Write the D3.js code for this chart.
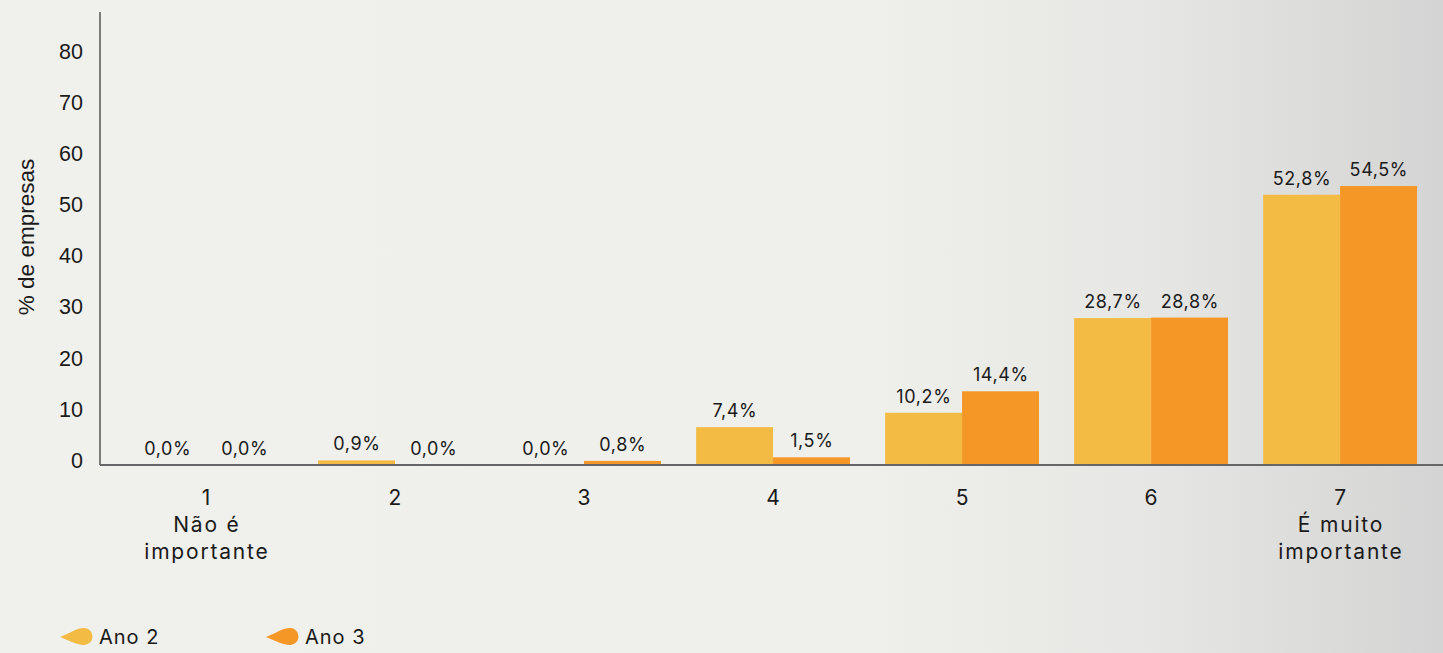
<!DOCTYPE html>
<html><head><meta charset="utf-8">
<script src="https://cdn.jsdelivr.net/npm/d3@7"></script>
<style>
html,body{margin:0;padding:0;}
body{width:1443px;height:653px;overflow:hidden;}
text{font-family:"Inter","Noto Sans",sans-serif;fill:#1a1a1a;}
text.ax{font-family:"Liberation Sans","Arial",sans-serif;}
</style></head>
<body>
<svg id="c" width="1443" height="653"></svg>
<script>
const categories = ["1","2","3","4","5","6","7"];
const categorySub = [["Não é","importante"],[],[],[],[],[],["É muito","importante"]];
const seriesNames = ["Ano 2","Ano 3"];
const ano2 = [0.0, 0.9, 0.0, 7.4, 10.2, 28.7, 52.8];
const ano3 = [0.0, 0.0, 0.8, 1.5, 14.4, 28.8, 54.5];
const yTicks = [0,10,20,30,40,50,60,70,80];
const colors = ["#F3BB43","#F49727"];

const svg = d3.select("#c");
const W = 1443, H = 653;
const defs = svg.append("defs");
const grad = defs.append("linearGradient").attr("id","bg").attr("x1","0").attr("x2","1").attr("y1","0").attr("y2","0");
grad.append("stop").attr("offset","0").attr("stop-color","#f0f0ec");
grad.append("stop").attr("offset","0.6").attr("stop-color","#efefeb");
grad.append("stop").attr("offset","0.8").attr("stop-color","#e6e6e4");
grad.append("stop").attr("offset","1").attr("stop-color","#d4d4d4");
svg.append("rect").attr("width",W).attr("height",H).attr("fill","url(#bg)");

const x0 = d3.scaleBand().domain(categories).range([111.5,1434.6]).paddingInner(0.186).paddingOuter(0.093);
const x1 = d3.scaleBand().domain(seriesNames).range([0,x0.bandwidth()]);
const y = d3.scaleLinear().domain([0,88.5]).range([465,12]);

const data = categories.map((c,i)=>({cat:c, vals:[ano2[i],ano3[i]]}));

// bars
const g = svg.append("g");
const groups = g.selectAll("g.grp").data(data).join("g").attr("class","grp")
  .attr("transform",d=>`translate(${x0(d.cat)},0)`);
groups.selectAll("rect").data(d=>d.vals.map((v,j)=>({v,s:seriesNames[j],j}))).join("rect")
  .attr("x",d=>x1(d.s)).attr("width",x1.bandwidth())
  .attr("y",d=>y(d.v)).attr("height",d=>y(0)-y(d.v))
  .attr("fill",d=>colors[d.j]);
groups.selectAll("text").data(d=>d.vals.map((v,j)=>({v,s:seriesNames[j],j}))).join("text")
  .attr("x",d=>x1(d.s)+x1.bandwidth()/2+0.3).attr("y",d=>y(d.v)-10)
  .attr("text-anchor","middle").attr("font-size",18).attr("letter-spacing",0.6)
  .text(d=>d.v.toFixed(1).replace(".",",")+"%");

// axes
svg.append("line").attr("x1",100).attr("x2",100).attr("y1",12).attr("y2",465).attr("stroke","#555").attr("stroke-width",1.5);
svg.append("line").attr("x1",100).attr("x2",W).attr("y1",465).attr("y2",465).attr("stroke","#666").attr("stroke-width",2);

svg.append("g").selectAll("text").data(yTicks).join("text").attr("class","ax")
  .attr("x",83).attr("y",d=>y(d)+3).attr("text-anchor","end").attr("font-size",21.5)
  .text(d=>d);

svg.append("text").attr("class","ax").attr("transform","translate(34,237) rotate(-90)").attr("text-anchor","middle")
  .attr("font-size",22.5).text("% de empresas");

// category labels
const cl = svg.append("g");
categories.forEach((c,i)=>{
  const cx = x0(c)+x0.bandwidth()/2;
  const lines = [c].concat(categorySub[i]);
  lines.forEach((t,k)=>{
    cl.append("text").attr("x",cx+0.9).attr("y",505+k*27).attr("text-anchor","middle")
      .attr("font-size",21).attr("letter-spacing",1.8).text(t);
  });
});

// legend
const leg = svg.append("g");
const legX = [60,266];
seriesNames.forEach((s,i)=>{
  const lx = legX[i], ly = 637;
  leg.append("path").attr("d",`M${lx},${ly} C${lx+10},${ly-4} ${lx+17},${ly-9} ${lx+24},${ly-9} A8.5,8.5 0 0 1 ${lx+24},${ly+8} C${lx+17},${ly+8} ${lx+10},${ly+4} ${lx},${ly} Z`)
    .attr("fill",colors[i]);
  leg.append("text").attr("x",lx+39).attr("y",ly+7).attr("font-size",20).attr("letter-spacing",1).text(s);
});
</script>
</body></html>
